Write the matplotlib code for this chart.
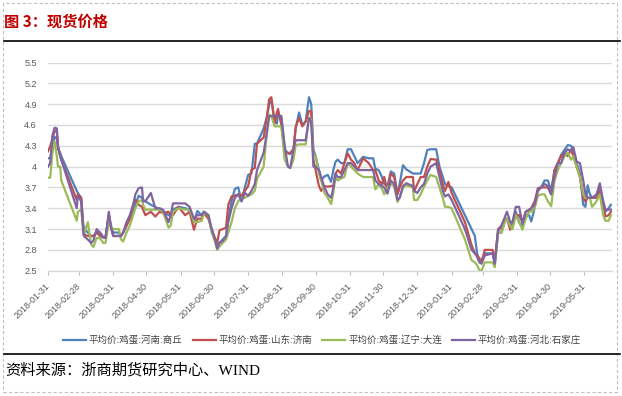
import numpy as np
import matplotlib
matplotlib.use("Agg")
import matplotlib.pyplot as plt
from matplotlib.lines import Line2D
from matplotlib.patches import Rectangle
from matplotlib.transforms import ScaledTranslation
from matplotlib.font_manager import FontProperties

start_date = "2018-01-31"
days = [0, 2, 4, 6, 8, 9, 11, 12, 26, 27,
        30, 32, 33, 36, 39, 41, 44, 47, 50, 52,
        55, 57, 59, 64, 66, 68, 71, 74, 77, 79,
        82, 85, 86, 88, 93, 97, 101, 104, 109, 111,
        113, 118, 124, 128, 132, 135, 139, 141, 145, 148,
        151, 153, 155, 158, 161, 163, 166, 169, 172, 175,
        178, 181, 184, 187, 189, 195, 198, 200, 202, 205,
        207, 208, 211, 214, 217, 219, 222, 224, 227, 230,
        233, 236, 238, 240, 242, 245, 247, 250, 253, 256,
        258, 260, 262, 265, 268, 271, 274, 277, 280, 285,
        290, 294, 296, 299, 302, 304, 307, 310, 313, 316,
        318, 321, 324, 330, 331, 334, 337, 340, 343, 346,
        351, 354, 357, 359, 362, 365, 377, 383, 386, 388,
        390, 392, 395, 402, 404, 407, 410, 413, 415, 418,
        420, 423, 426, 429, 432, 435, 437, 440, 443, 446,
        449, 452, 455, 458, 461, 464, 467, 470, 473, 475,
        478, 481, 484, 486, 488, 490, 492, 496, 499, 502,
        504, 507, 509]

henan = [4.12, 4.12, 4.30, 4.43, 4.40, 4.25, 4.20, 4.15, 3.65, 3.62,
         3.55, 3.15, 3.10, 3.05, 3.00, 3.00, 3.05, 3.05, 2.98, 2.98,
         3.30, 3.15, 3.05, 3.05, 3.00, 3.05, 3.15, 3.25, 3.35, 3.45,
         3.58, 3.55, 3.52, 3.50, 3.45, 3.42, 3.38, 3.36, 3.30, 3.30,
         3.38, 3.42, 3.40, 3.38, 3.20, 3.36, 3.30, 3.35, 3.30, 3.08,
         2.95, 2.85, 2.90, 2.95, 3.00, 3.25, 3.50, 3.68, 3.70, 3.50,
         3.70, 3.88, 3.90, 4.33, 4.33, 4.55, 4.72, 4.90, 4.95, 4.65,
         4.62, 4.75, 4.70, 4.24, 4.20, 4.18, 4.25, 4.55, 4.78, 4.60,
         4.65, 5.00, 4.90, 4.25, 4.15, 3.95, 3.80, 3.86, 3.88, 3.78,
         3.95, 4.07, 4.10, 4.05, 4.05, 4.25, 4.25, 4.15, 4.05, 4.14,
         4.12, 4.12, 3.97, 3.95, 3.85, 3.75, 3.72, 3.93, 3.90, 3.60,
         3.75, 4.02, 3.96, 3.90, 3.90, 3.90, 3.90, 4.05, 4.24, 4.25,
         4.25, 4.00, 3.85, 3.75, 3.72, 3.70, 3.30, 3.10, 3.00, 2.75,
         2.65, 2.65, 2.75, 2.75, 2.60, 3.05, 3.05, 3.20, 3.25, 3.15,
         3.20, 3.35, 3.20, 3.13, 3.30, 3.30, 3.21, 3.40, 3.69, 3.70,
         3.80, 3.80, 3.65, 3.95, 4.05, 4.17, 4.24, 4.31, 4.30, 4.25,
         4.05, 3.90, 3.45, 3.42, 3.73, 3.60, 3.55, 3.55, 3.68, 3.50,
         3.35, 3.40, 3.45]

shandong = [4.22, 4.29, 4.40, 4.52, 4.50, 4.30, 4.15, 4.10, 3.52, 3.60,
            3.55, 3.10, 3.02, 3.00, 3.00, 3.00, 3.05, 3.00, 2.98, 2.98,
            3.30, 3.12, 3.00, 3.00, 3.00, 3.05, 3.15, 3.25, 3.45, 3.52,
            3.45, 3.42, 3.38, 3.30, 3.35, 3.28, 3.35, 3.33, 3.35, 3.30,
            3.30, 3.42, 3.30, 3.35, 3.09, 3.25, 3.25, 3.33, 3.25, 3.10,
            2.97, 2.90, 3.08, 3.10, 3.12, 3.45, 3.57, 3.58, 3.60, 3.58,
            3.65, 3.72, 3.95, 3.98, 4.33, 4.42, 4.72, 4.97, 5.00, 4.62,
            4.78, 4.83, 4.60, 4.22, 4.19, 4.20, 4.25, 4.58, 4.70, 4.58,
            4.65, 4.80, 4.80, 4.10, 3.95, 3.72, 3.65, 3.72, 3.71, 3.72,
            3.72, 3.90, 3.95, 3.90, 4.05, 4.19, 4.10, 4.05, 3.95, 4.12,
            4.05, 3.95, 3.95, 3.80, 3.75, 3.85, 3.65, 3.90, 3.85, 3.60,
            3.70, 3.80, 3.85, 3.85, 3.64, 3.75, 3.85, 3.85, 4.00, 4.11,
            4.10, 3.95, 3.75, 3.65, 3.78, 3.62, 3.20, 2.87, 2.75, 2.72,
            2.68, 2.62, 2.80, 2.80, 2.65, 3.08, 3.12, 3.25, 3.25, 3.09,
            3.15, 3.30, 3.30, 3.20, 3.35, 3.37, 3.40, 3.50, 3.68, 3.70,
            3.70, 3.70, 3.60, 3.95, 4.05, 4.15, 4.20, 4.15, 4.25, 4.15,
            4.00, 3.85, 3.55, 3.50, 3.55, 3.55, 3.55, 3.55, 3.65, 3.45,
            3.28, 3.30, 3.35]

liaoning = [3.84, 3.84, 4.20, 4.36, 4.15, 4.00, 4.00, 3.80, 3.22, 3.35,
            3.38, 3.10, 3.05, 3.20, 2.88, 2.84, 2.97, 2.97, 2.90, 2.90,
            3.20, 3.12, 3.10, 3.10, 2.95, 2.92, 3.05, 3.15, 3.30, 3.40,
            3.50, 3.52, 3.45, 3.38, 3.38, 3.38, 3.38, 3.35, 3.12, 3.15,
            3.35, 3.40, 3.38, 3.38, 3.20, 3.20, 3.22, 3.33, 3.30, 3.05,
            2.92, 2.80, 2.85, 2.90, 2.95, 3.05, 3.20, 3.40, 3.50, 3.55,
            3.55, 3.58, 3.60, 3.65, 3.82, 4.00, 4.50, 4.75, 4.72, 4.58,
            4.58, 4.58, 4.58, 4.10, 4.00, 3.98, 4.10, 4.31, 4.32, 4.32,
            4.32, 4.70, 4.68, 4.17, 4.15, 3.90, 3.80, 3.62, 3.55, 3.46,
            3.62, 3.85, 3.80, 3.83, 3.85, 4.05, 4.00, 3.95, 3.90, 3.85,
            3.85, 3.85, 3.67, 3.75, 3.68, 3.60, 3.70, 3.75, 3.72, 3.49,
            3.55, 3.70, 3.73, 3.70, 3.52, 3.52, 3.60, 3.71, 3.80, 3.88,
            3.85, 3.70, 3.55, 3.42, 3.42, 3.40, 2.95, 2.65, 2.62, 2.58,
            2.51, 2.50, 2.62, 2.62, 2.55, 3.05, 3.05, 3.20, 3.25, 3.15,
            3.10, 3.30, 3.20, 3.09, 3.25, 3.35, 3.35, 3.40, 3.58, 3.60,
            3.60, 3.50, 3.43, 3.80, 3.95, 4.05, 4.15, 4.20, 4.10, 4.15,
            4.00, 3.85, 3.60, 3.55, 3.55, 3.55, 3.42, 3.50, 3.60, 3.30,
            3.22, 3.22, 3.30]

hebei = [4.00, 4.05, 4.45, 4.56, 4.55, 4.30, 4.15, 4.10, 3.40, 3.58,
         3.50, 3.02, 2.99, 2.95, 2.90, 2.93, 3.10, 3.05, 2.98, 2.97,
         3.35, 3.12, 3.00, 3.00, 3.00, 3.05, 3.20, 3.30, 3.45, 3.60,
         3.69, 3.70, 3.50, 3.50, 3.62, 3.40, 3.40, 3.38, 3.20, 3.30,
         3.47, 3.47, 3.47, 3.42, 3.25, 3.30, 3.30, 3.35, 3.30, 3.10,
         2.95, 2.82, 2.90, 2.93, 3.00, 3.20, 3.40, 3.55, 3.60, 3.50,
         3.62, 3.58, 3.65, 3.75, 3.95, 4.20, 4.50, 4.73, 4.73, 4.73,
         4.73, 4.73, 4.73, 4.30, 4.00, 3.98, 4.25, 4.38, 4.38, 4.38,
         4.38, 4.70, 4.65, 4.00, 4.00, 3.95, 3.85, 3.70, 3.60, 3.55,
         3.70, 3.90, 3.85, 3.85, 3.95, 4.05, 4.05, 4.00, 3.95, 3.95,
         3.95, 3.95, 3.80, 3.75, 3.72, 3.70, 3.61, 3.80, 3.75, 3.52,
         3.55, 3.72, 3.76, 3.72, 3.65, 3.62, 3.70, 3.75, 3.90, 4.00,
         4.05, 3.85, 3.65, 3.57, 3.60, 3.52, 3.10, 2.80, 2.75, 2.70,
         2.62, 2.60, 2.72, 2.75, 2.60, 3.10, 3.15, 3.27, 3.35, 3.20,
         3.20, 3.42, 3.42, 3.18, 3.35, 3.38, 3.40, 3.45, 3.65, 3.70,
         3.75, 3.72, 3.60, 3.85, 4.05, 4.05, 4.20, 4.25, 4.22, 4.28,
         4.07, 4.05, 3.80, 3.60, 3.55, 3.55, 3.55, 3.60, 3.76, 3.50,
         3.38, 3.38, 3.38]

series_names = ["平均价:鸡蛋:河南:商丘", "平均价:鸡蛋:山东:济南",
                "平均价:鸡蛋:辽宁:大连", "平均价:鸡蛋:河北:石家庄"]
series_colors = ["#4F81BD", "#C0504D", "#9BBB59", "#8064A2"]

x_ticks = ["2018-01-31", "2018-02-28", "2018-03-31", "2018-04-30", "2018-05-31",
           "2018-06-30", "2018-07-31", "2018-08-31", "2018-09-30", "2018-10-31",
           "2018-11-30", "2018-12-31", "2019-01-31", "2019-02-28", "2019-03-31",
           "2019-04-30", "2019-05-31"]
y_ticks = [2.5, 2.8, 3.1, 3.4, 3.7, 4.0, 4.3, 4.6, 4.9, 5.2, 5.5]
y_tick_labels = ["2.5", "2.8", "3.1", "3.4", "3.7", "4", "4.3", "4.6", "4.9", "5.2", "5.5"]

title_text = "图 3：现货价格"
source_text = "资料来源：浙商期货研究中心、WIND"

W, H = 622, 396
fig = plt.figure(figsize=(W / 100, H / 100), dpi=100)
fig.patch.set_facecolor("white")

ax_left, ax_right, ax_top, ax_bottom = 48, 612, 62.5, 270.7
ax = fig.add_axes([ax_left / W, 1 - ax_bottom / H, (ax_right - ax_left) / W, (ax_bottom - ax_top) / H])

dates = np.datetime64(start_date) + np.array(days).astype("timedelta64[D]")
for vals, name, col in zip([henan, shandong, liaoning, hebei], series_names, series_colors):
    ax.plot(dates, vals, color=col, lw=1.6, label=name, solid_joinstyle="round")

ax.set_xlim(np.datetime64(start_date), np.datetime64(start_date) + np.timedelta64(510, "D"))
ax.set_ylim(2.5, 5.5)
ax.set_yticks(y_ticks)
ax.set_yticklabels(y_tick_labels)
tick_dates = np.array(x_ticks, dtype="datetime64[D]")
ax.set_xticks(tick_dates)
ax.set_xticklabels(x_ticks, rotation=45, ha="right", va="center", rotation_mode="anchor")

tick_font = FontProperties(family=["Liberation Sans", "DejaVu Sans"], size=6.5)
for lab in ax.get_xticklabels() + ax.get_yticklabels():
    lab.set_fontproperties(tick_font)
    lab.set_color("#595959")
for lab in ax.get_xticklabels():
    lab.set_transform(lab.get_transform() + ScaledTranslation(-3 / 100, 0, fig.dpi_scale_trans))

ax.grid(axis="y", color="#d9d9d9", lw=1.0)
ax.set_axisbelow(True)
for s in ["left", "right", "top"]:
    ax.spines[s].set_visible(False)
ax.spines["bottom"].set_color("#d9d9d9")
ax.spines["bottom"].set_linewidth(1.0)
ax.tick_params(axis="y", length=0, pad=8)
ax.tick_params(axis="x", length=3, color="#bfbfbf", width=0.8, pad=7)

leg_font = FontProperties(family=["Noto Sans CJK SC", "DejaVu Sans"], size=6.8)
leg = fig.legend(loc="center", bbox_to_anchor=(322 / W, 1 - 340 / H), ncol=4, frameon=False,
                 prop=leg_font, handlelength=2.45, handletextpad=0.3, columnspacing=1.05,
                 borderaxespad=0, borderpad=0)
for t in leg.get_texts():
    t.set_color("#404040")

fig.text(4 / W, 1 - 21.7 / H, title_text, ha="left", va="center", fontsize=11, fontweight="bold",
         color="#C00000", family=["Noto Sans CJK SC", "DejaVu Sans"])
fig.add_artist(Line2D([4 / W, 620 / W], [1 - 41 / H, 1 - 41 / H], color="black", lw=1.2))
fig.add_artist(Line2D([4 / W, 620 / W], [1 - 353.5 / H, 1 - 353.5 / H], color="black", lw=1.2))
fig.text(5 / W, 1 - 370 / H, source_text, ha="left", va="center", fontsize=11,
         color="#000000", family=["Liberation Serif", "Noto Sans CJK SC"])
fig.add_artist(Rectangle((2.7 / W, (H - 391.7) / H), (616.7 - 2.7) / W, (391.7 - 2.7) / H,
                         fill=False, ls=(0, (3, 2)), ec="#c0c0c0", lw=0.8, transform=fig.transFigure))

fig.savefig("out.png", dpi=100, facecolor="white")
